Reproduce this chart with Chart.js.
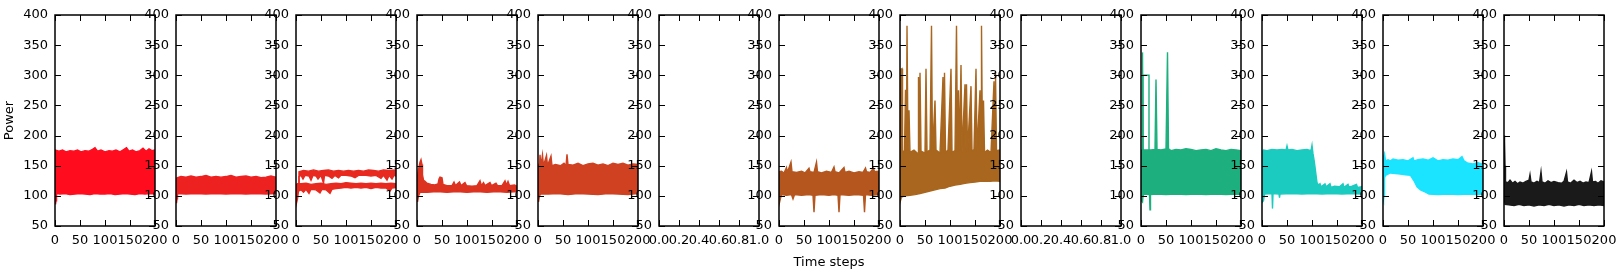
<!DOCTYPE html>
<html>
<head>
<meta charset="utf-8">
<script src="https://cdn.jsdelivr.net/npm/chart.js@4/dist/chart.umd.min.js"></script>
<style>
  html, body { margin: 0; padding: 0; background: #fff; }
  #wrap { position: relative; width: 1619px; height: 274px; overflow: hidden; }
  #wrap canvas { position: absolute; top: 0; }
</style>
</head>
<body>
<div id="wrap"></div>
<script>
// axis ticks
const yTicks = [50, 100, 150, 200, 250, 300, 350, 400];
const xTicksSteps = [0, 50, 100, 150, 200];
const xTicksUnit = [0, 0.2, 0.4, 0.6, 0.8, 1.0];

// band edges, [time step, power]
const p1Upper = [[0,172],[1,176],[8,174],[15,176],[22,173],[30,175],[38,174],[45,176],[52,173],[60,175],[68,174],[75,177],[80,180],[85,174],[92,176],[100,173],[108,175],[115,174],[122,176],[130,173],[138,177],[143,180],[148,174],[155,176],[162,173],[170,175],[176,179],[182,174],[188,178],[194,175],[200,176]];
const p1Lower = [[0,100],[1,86],[2,92],[3,104],[10,103],[20,104],[30,102],[40,103],[50,104],[60,103],[70,102],[80,104],[90,103],[100,103],[110,104],[120,102],[130,103],[140,104],[150,103],[160,102],[170,104],[180,103],[190,104],[200,103]];

const p2Upper = [[0,128],[2,130],[10,132],[20,131],[30,133],[40,131],[50,132],[60,134],[70,131],[80,132],[90,131],[100,132],[110,134],[120,131],[130,132],[140,133],[150,131],[160,132],[170,130],[180,131],[190,133],[200,131]];
const p2Lower = [[0,100],[1,88],[2,95],[3,104],[20,103],[40,104],[60,103],[80,104],[100,103],[120,104],[140,103],[160,104],[180,103],[200,104]];

const p3HighUpper = [[6,118],[6,140],[15,142],[25,141],[35,143],[45,141],[55,142],[65,143],[75,141],[85,142],[95,141],[105,142],[115,141],[125,142],[135,141],[145,143],[155,142],[165,141],[175,143],[185,142],[200,143]];
const p3HighLower = [[6,118],[6,132],[10,134],[14,128],[18,134],[26,133],[30,126],[34,134],[40,133],[44,128],[50,134],[55,121],[57,134],[65,133],[72,129],[78,134],[85,130],[90,134],[100,134],[110,133],[118,130],[125,134],[140,134],[150,133],[160,134],[170,129],[175,134],[182,126],[186,134],[192,128],[196,134],[200,133]];
const p3LowUpper = [[0,118],[3,120],[10,120],[20,121],[30,119],[40,120],[50,121],[60,119],[70,120],[80,121],[90,120],[100,122],[110,121],[120,120],[130,121],[140,120],[150,121],[160,120],[170,121],[180,120],[190,121],[200,120]];
const p3LowLower = [[0,100],[1,88],[3,95],[5,108],[10,110],[15,106],[20,111],[26,104],[30,111],[40,110],[48,105],[52,111],[60,110],[68,104],[72,111],[80,112],[90,113],[100,114],[110,113],[120,114],[130,113],[140,114],[150,112],[160,114],[170,113],[180,113],[188,108],[192,113],[200,114]];

const p4Upper = [[0,118],[2,140],[4,148],[6,156],[8,160],[10,152],[11,135],[13,126],[16,124],[20,121],[28,119],[36,118],[42,120],[44,128],[46,131],[50,130],[52,119],[60,117],[70,117],[74,123],[77,117],[85,123],[88,117],[96,122],[99,117],[110,116],[120,117],[126,125],[129,117],[133,122],[136,117],[146,122],[149,117],[158,121],[161,117],[170,117],[176,125],[179,118],[182,124],[185,117],[195,118],[200,116]];
const p4Lower = [[0,96],[1,90],[3,100],[6,106],[20,106],[40,107],[60,106],[80,107],[100,106],[120,107],[140,106],[160,107],[180,106],[200,107]];

const p5Upper = [[0,148],[2,152],[3,150],[4,168],[6,150],[9,168],[11,150],[17,167],[19,150],[26,166],[28,150],[35,152],[45,150],[52,154],[56,150],[58,169],[60,152],[70,151],[80,154],[90,150],[100,153],[110,154],[120,151],[130,153],[140,150],[150,154],[160,152],[170,154],[180,151],[190,153],[200,152]];
const p5Lower = [[0,100],[1,90],[3,100],[5,103],[20,103],[40,104],[60,102],[80,104],[100,103],[120,102],[140,104],[160,103],[180,102],[200,104]];

const p7Upper = [[0,140],[5,141],[10,138],[15,147],[17,139],[24,156],[26,140],[35,139],[45,141],[52,138],[60,146],[62,140],[70,139],[75,156],[77,140],[85,138],[95,141],[105,139],[110,148],[112,140],[120,138],[130,147],[132,139],[140,141],[150,138],[160,140],[168,139],[173,146],[175,140],[182,139],[189,146],[191,140],[200,141]];
const p7Lower = [[0,95],[1,89],[3,96],[5,102],[15,101],[25,102],[28,95],[31,102],[45,101],[60,102],[68,101],[70,73],[72,101],[85,102],[100,101],[110,102],[118,101],[120,73],[122,102],[140,101],[155,102],[169,101],[171,73],[173,102],[185,101],[200,102]];

const p8Upper = [[0,175],[2,310],[4,311],[5,172],[9,175],[11,276],[13,175],[14,382],[16,176],[18,242],[20,172],[28,176],[36,170],[37,297],[39,172],[40,304],[42,174],[50,171],[52,311],[54,173],[60,176],[63,382],[65,172],[70,258],[72,176],[80,171],[86,297],[88,173],[89,304],[91,172],[96,176],[102,311],[104,172],[110,175],[113,382],[115,174],[117,275],[119,175],[122,317],[124,172],[130,285],[132,176],[133,285],[135,172],[142,282],[144,174],[148,177],[152,311],[154,173],[160,275],[162,175],[163,382],[165,176],[167,258],[169,172],[175,176],[182,172],[188,290],[190,174],[191,305],[193,175],[200,176]];
const p8Lower = [[0,100],[1,92],[3,98],[10,100],[20,101],[30,102],[40,104],[50,106],[60,108],[70,110],[80,112],[90,113],[100,116],[110,118],[120,119],[130,121],[140,122],[150,123],[160,124],[170,124],[180,124],[190,125],[200,124]];

const p10Upper = [[0,175],[2,176],[3,338],[4,176],[20,176],[28,177],[30,293],[32,177],[40,176],[50,178],[53,338],[55,178],[60,175],[70,177],[80,176],[90,178],[100,177],[110,175],[120,176],[130,177],[140,175],[150,178],[160,176],[170,175],[180,177],[190,176],[200,175]];
const p10Lower = [[0,100],[1,92],[3,90],[4,100],[6,103],[17,102],[18,77],[19,102],[30,103],[50,102],[70,103],[90,102],[110,103],[130,102],[150,103],[170,102],[190,103],[200,102]];
const p10Step = [[4,175],[4,300],[16,300],[16,175]];

const p11Upper = [[0,172],[3,176],[10,175],[20,177],[30,176],[40,177],[48,176],[50,183],[52,176],[60,177],[70,175],[80,176],[90,177],[98,175],[100,184],[102,170],[104,160],[106,148],[108,135],[110,122],[113,118],[116,120],[118,115],[126,120],[128,115],[136,120],[138,114],[145,116],[155,115],[162,120],[164,114],[172,119],[174,115],[180,116],[189,119],[191,114],[200,115]];
const p11Lower = [[0,95],[1,90],[3,92],[5,103],[20,104],[21,79],[22,104],[34,103],[35,97],[36,103],[60,104],[80,103],[100,104],[120,103],[140,104],[160,103],[180,104],[200,103]];

const p12Upper = [[0,140],[1,165],[3,170],[5,158],[10,160],[15,158],[20,161],[30,159],[40,160],[50,158],[60,163],[62,158],[70,160],[80,161],[90,159],[100,163],[110,158],[120,160],[130,159],[140,161],[150,160],[158,165],[162,158],[170,154],[180,153],[190,155],[200,152]];
const p12Lower = [[0,95],[1,92],[2,100],[3,130],[5,134],[15,138],[25,137],[35,136],[45,135],[55,134],[62,125],[68,115],[75,110],[85,106],[92,103],[110,102],[130,103],[150,102],[170,103],[190,102],[200,103]];

const p13Upper = [[0,200],[1,190],[2,150],[3,123],[8,122],[12,126],[17,121],[22,124],[27,120],[32,123],[38,121],[44,124],[50,126],[52,135],[54,123],[60,121],[66,124],[71,122],[74,140],[76,123],[82,121],[88,125],[94,122],[100,124],[108,122],[115,121],[120,124],[125,139],[127,123],[133,121],[140,126],[146,122],[152,124],[158,121],[164,123],[170,122],[175,140],[177,123],[183,124],[188,121],[194,125],[200,123]];
const p13Lower = [[0,100],[2,86],[10,85],[20,84],[30,86],[40,84],[50,85],[60,83],[70,85],[80,84],[90,86],[100,84],[110,85],[120,83],[130,85],[140,84],[150,86],[160,84],[170,85],[180,84],[190,85],[200,84]];

// one entry per subplot: bands are [upper, lower] pairs, lines are unfilled extras
const panels = [
  { color: '#ff0d1f', bands: [[p1Upper, p1Lower]] },
  { color: '#ee2121', bands: [[p2Upper, p2Lower]] },
  { color: '#e8291f', bands: [[p3HighUpper, p3HighLower], [p3LowUpper, p3LowLower]] },
  { color: '#dc3320', bands: [[p4Upper, p4Lower]] },
  { color: '#cf4120', bands: [[p5Upper, p5Lower]] },
  { empty: true },
  { color: '#b5561f', bands: [[p7Upper, p7Lower]], xTitle: 'Time steps' },
  { color: '#a8661e', bands: [[p8Upper, p8Lower]] },
  { empty: true },
  { color: '#1db07e', bands: [[p10Upper, p10Lower]], lines: [p10Step] },
  { color: '#1ccbbf', bands: [[p11Upper, p11Lower]] },
  { color: '#1ae4ff', bands: [[p12Upper, p12Lower]] },
  { color: '#1a1a1a', bands: [[p13Upper, p13Lower]] }
];

const FONT = { family: 'DejaVu Sans', size: 13 };
const TOP = 15, BOTTOM = 226, H = 274, W = 100, PAD_R = 16;

// black frame plus inward ticks on all four sides
const framePlugin = {
  id: 'frame',
  afterDatasetsDraw(chart) {
    const { ctx, chartArea: a, scales: { x, y } } = chart;
    const len = 6;
    ctx.save();
    ctx.strokeStyle = '#000';
    ctx.lineWidth = 1;
    ctx.beginPath();
    x.ticks.forEach(t => {
      const px = Math.round(x.getPixelForValue(t.value)) + 0.5;
      ctx.moveTo(px, a.bottom); ctx.lineTo(px, a.bottom - len);
      ctx.moveTo(px, a.top); ctx.lineTo(px, a.top + len);
    });
    y.ticks.forEach(t => {
      const py = Math.round(y.getPixelForValue(t.value)) + 0.5;
      ctx.moveTo(a.left, py); ctx.lineTo(a.left + len, py);
      ctx.moveTo(a.right, py); ctx.lineTo(a.right - len, py);
    });
    ctx.stroke();
    ctx.lineWidth = 1.5;
    ctx.strokeRect(a.left, a.top, a.right - a.left, a.bottom - a.top);
    ctx.restore();
  }
};

const wrap = document.getElementById('wrap');

panels.forEach((p, i) => {
  const plotLeft = Math.round(55 + i * 120.72);
  const axisW = i === 0 ? 55 : 48;
  const canvas = document.createElement('canvas');
  canvas.width = axisW + W + PAD_R;
  canvas.height = H;
  canvas.style.left = (plotLeft - axisW) + 'px';
  wrap.appendChild(canvas);

  const datasets = [];
  (p.bands || []).forEach(([upper, lower]) => {
    datasets.push({ data: lower, borderColor: p.color, borderWidth: 1.4, pointRadius: 0, fill: false });
    datasets.push({ data: upper, borderColor: p.color, backgroundColor: p.color, borderWidth: 1.4, pointRadius: 0, fill: '-1' });
  });
  (p.lines || []).forEach(line => {
    datasets.push({ data: line, borderColor: p.color, borderWidth: 1.4, pointRadius: 0, fill: false });
  });

  const xVals = p.empty ? xTicksUnit : xTicksSteps;

  new Chart(canvas, {
    type: 'line',
    data: { datasets },
    options: {
      responsive: false,
      animation: false,
      devicePixelRatio: 1,
      layout: { padding: { left: 0, right: PAD_R, top: TOP, bottom: 0 } },
      plugins: { legend: { display: false }, tooltip: { enabled: false } },
      elements: { line: { tension: 0 } },
      scales: {
        x: {
          type: 'linear',
          min: xVals[0],
          max: xVals[xVals.length - 1],
          afterBuildTicks: s => { s.ticks = xVals.map(v => ({ value: v })); },
          grid: { display: false, drawTicks: false },
          border: { display: false },
          ticks: {
            autoSkip: false, maxRotation: 0, minRotation: 0, padding: 7,
            color: '#000', font: FONT,
            callback: v => p.empty ? Number(v).toFixed(1) : String(v)
          },
          title: { display: !!p.xTitle, text: p.xTitle || '', color: '#000', font: FONT, padding: { top: 0, bottom: 4 } },
          afterFit: s => { s.height = H - BOTTOM; s.paddingLeft = 0; s.paddingRight = 0; }
        },
        y: {
          type: 'linear',
          min: 50,
          max: 400,
          afterBuildTicks: s => { s.ticks = yTicks.map(v => ({ value: v })); },
          grid: { display: false, drawTicks: false },
          border: { display: false },
          ticks: { autoSkip: false, padding: 7, color: '#000', font: FONT },
          title: { display: i === 0, text: 'Power', color: '#000', font: FONT, padding: { top: 2, bottom: 0 } },
          afterFit: s => { s.width = axisW; s.paddingTop = 0; s.paddingBottom = 0; }
        }
      }
    },
    plugins: [framePlugin]
  });
});
</script>
</body>
</html>
